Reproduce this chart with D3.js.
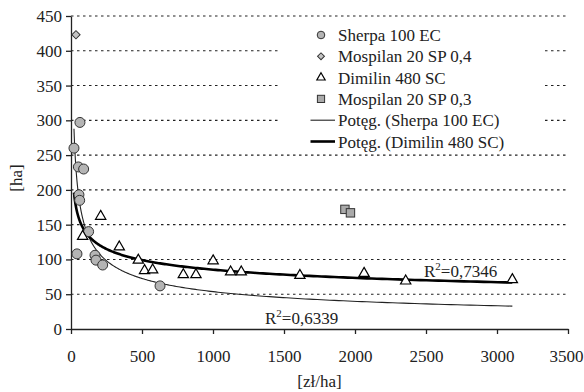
<!DOCTYPE html>
<html>
<head>
<meta charset="utf-8">
<script src="https://cdn.jsdelivr.net/npm/d3@7"></script>
<style>
  html, body { margin: 0; padding: 0; background: #fff; }
</style>
</head>
<body>
<svg id="chart" width="584" height="392"></svg>
<script>
// ---- data ----
const sherpaX = [63, 21, 52, 89, 56, 61, 124, 42, 169, 176, 223, 627];
const sherpaY = [297, 260, 233, 230, 193, 185, 140, 108, 106, 99, 92, 62];
const mosp04X = [35];
const mosp04Y = [423];
const dimilinX = [209, 82, 340, 474, 518, 575, 791, 880, 1001, 1124, 1199, 1612, 2064, 2357, 3108];
const dimilinY = [162, 133, 118, 99, 84, 85, 78, 78, 98, 82, 82, 77, 80, 69, 71];
const mosp03X = [1929, 1968];
const mosp03Y = [172, 167];
const xTicks = [0, 500, 1000, 1500, 2000, 2500, 3000, 3500];
const yTicks = [0, 50, 100, 150, 200, 250, 300, 350, 400, 450];
const legendLabels = ["Sherpa 100 EC", "Mospilan 20 SP 0,4", "Dimilin 480 SC", "Mospilan 20 SP 0,3",
                      "Potęg. (Sherpa 100 EC)", "Potęg. (Dimilin 480 SC)"];
const r2Labels = ["0,6339", "0,7346"];
const xTitle = "[zł/ha]";
const yTitle = "[ha]";

// ---- layout ----
const svg = d3.select("#chart");
const x = d3.scaleLinear().domain([0, 3500]).range([71, 568]);
const y = d3.scaleLinear().domain([0, 450]).range([329, 16]);
const FONT = 17;
const txt = sel => sel.style("font-family", `"Liberation Serif"`).attr("font-size", FONT).attr("fill", "#222");

// gridlines
svg.append("g").selectAll("line").data(yTicks.filter(d => d > 0)).join("line")
  .attr("x1", x(0)).attr("x2", x(3500))
  .attr("y1", d => y(d)).attr("y2", d => y(d))
  .attr("stroke", "#222").attr("stroke-width", 1.1).attr("stroke-dasharray", "2.5,3.5");

// legend background (hides gridlines)
svg.append("rect").attr("x", 278).attr("y", 23).attr("width", 265).attr("height", 127).attr("fill", "#fff");

// axes
const yAxis = svg.append("g").attr("transform", `translate(${x(0)},0)`)
  .call(d3.axisLeft(y).tickValues(yTicks).tickFormat(d3.format("d")).tickSize(5).tickPadding(4).tickSizeOuter(0));
const xAxis = svg.append("g").attr("transform", `translate(0,${y(0)})`)
  .call(d3.axisBottom(x).tickValues(xTicks).tickFormat(d3.format("d")).tickSize(5).tickPadding(16).tickSizeOuter(0));
[yAxis, xAxis].forEach(g => {
  g.attr("font-family", null).attr("font-size", null);
  g.select(".domain").attr("stroke", "#222").attr("stroke-width", 1.3);
  g.selectAll(".tick line").attr("stroke", "#222").attr("stroke-width", 1.3);
  g.selectAll("text").call(txt);
});
xAxis.selectAll(".tick text").filter(d => d === 3500).attr("dx", -2);

// axis titles
svg.append("text").attr("x", (x(0) + x(3500)) / 2).attr("y", 387).attr("text-anchor", "middle")
  .call(txt).text(xTitle);
svg.append("text").attr("transform", "translate(22,178) rotate(-90)").attr("text-anchor", "middle")
  .call(txt).text(yTitle);

// power trendlines (least squares in log-log space, as in the spreadsheet)
function powerFit(xs, ys) {
  const lx = xs.map(Math.log), ly = ys.map(Math.log);
  const mx = d3.mean(lx), my = d3.mean(ly);
  let sxy = 0, sxx = 0;
  lx.forEach((v, i) => { sxy += (v - mx) * (ly[i] - my); sxx += (v - mx) * (v - mx); });
  const b = sxy / sxx, a = Math.exp(my - b * mx);
  return v => a * Math.pow(v, b);
}
const trendDomain = d3.extent(sherpaX.concat(dimilinX));
const samples = d3.range(0, 301).map(i => trendDomain[0] * Math.pow(trendDomain[1] / trendDomain[0], i / 300));
const line = d3.line().x(d => x(d[0])).y(d => y(d[1]));
const fS = powerFit(sherpaX, sherpaY);
const fD = powerFit(dimilinX, dimilinY);
svg.append("path").attr("d", line(samples.map(v => [v, fS(v)])))
  .attr("fill", "none").attr("stroke", "#222").attr("stroke-width", 1.1);
svg.append("path").attr("d", line(samples.map(v => [v, fD(v)])))
  .attr("fill", "none").attr("stroke", "#000").attr("stroke-width", 2.6);

// markers
const styles = {
  circle: g => g.append("circle").attr("r", 5).attr("fill", "#b4b4b4").attr("stroke", "#333").attr("stroke-width", 1),
  diamond: g => g.append("path").attr("d", d3.symbol(d3.symbolSquare, 34)()).attr("transform", "rotate(45)")
                 .attr("fill", "#c4c4c4").attr("stroke", "#333").attr("stroke-width", 1),
  triangle: g => g.append("path").attr("d", d3.symbol(d3.symbolTriangle, 46)())
                 .attr("fill", "#fff").attr("stroke", "#000").attr("stroke-width", 1.2),
  square: g => g.append("rect").attr("x", -4.2).attr("y", -4.2).attr("width", 8.4).attr("height", 8.4)
                 .attr("fill", "#aaa").attr("stroke", "#333").attr("stroke-width", 1)
};
function drawSeries(xs, ys, kind) {
  svg.append("g").selectAll("g").data(xs.map((v, i) => [v, ys[i]])).join("g")
    .attr("transform", d => `translate(${x(d[0])},${y(d[1])})`)
    .each(function () { styles[kind](d3.select(this)); });
}
drawSeries(sherpaX, sherpaY, "circle");
drawSeries(mosp04X, mosp04Y, "diamond");
drawSeries(dimilinX, dimilinY, "triangle");
drawSeries(mosp03X, mosp03Y, "square");

// R² labels
function r2(xPos, yPos, val) {
  const t = svg.append("text").attr("x", xPos).attr("y", yPos).call(txt);
  t.append("tspan").text("R");
  t.append("tspan").attr("font-size", 11).attr("dy", -7).text("2");
  t.append("tspan").attr("dy", 7).text("=" + val);
}
r2(265, 324, r2Labels[0]);
r2(424, 277, r2Labels[1]);

// legend
const lg = svg.append("g");
const kinds = ["circle", "diamond", "triangle", "square", "thin", "thick"];
legendLabels.forEach((lab, i) => {
  const cy = 35 + i * 21.3;
  const g = lg.append("g").attr("transform", `translate(321,${cy})`);
  const k = kinds[i];
  if (k === "circle") g.append("circle").attr("r", 3.8).attr("fill", "#b4b4b4").attr("stroke", "#333");
  if (k === "diamond") g.append("path").attr("d", d3.symbol(d3.symbolSquare, 24)()).attr("transform", "rotate(45)")
                        .attr("fill", "#c4c4c4").attr("stroke", "#333");
  if (k === "triangle") g.append("path").attr("d", d3.symbol(d3.symbolTriangle, 30)())
                        .attr("fill", "#fff").attr("stroke", "#000").attr("stroke-width", 1.2);
  if (k === "square") g.append("rect").attr("x", -3.6).attr("y", -3.6).attr("width", 7.2).attr("height", 7.2)
                        .attr("fill", "#aaa").attr("stroke", "#333");
  if (k === "thin") g.append("line").attr("x1", -10.5).attr("x2", 14).attr("stroke", "#222").attr("stroke-width", 1.1);
  if (k === "thick") g.append("line").attr("x1", -10.5).attr("x2", 14).attr("stroke", "#000").attr("stroke-width", 2.6);
  lg.append("text").attr("x", 338).attr("y", cy + 6).call(txt).text(lab);
});
</script>
</body>
</html>
